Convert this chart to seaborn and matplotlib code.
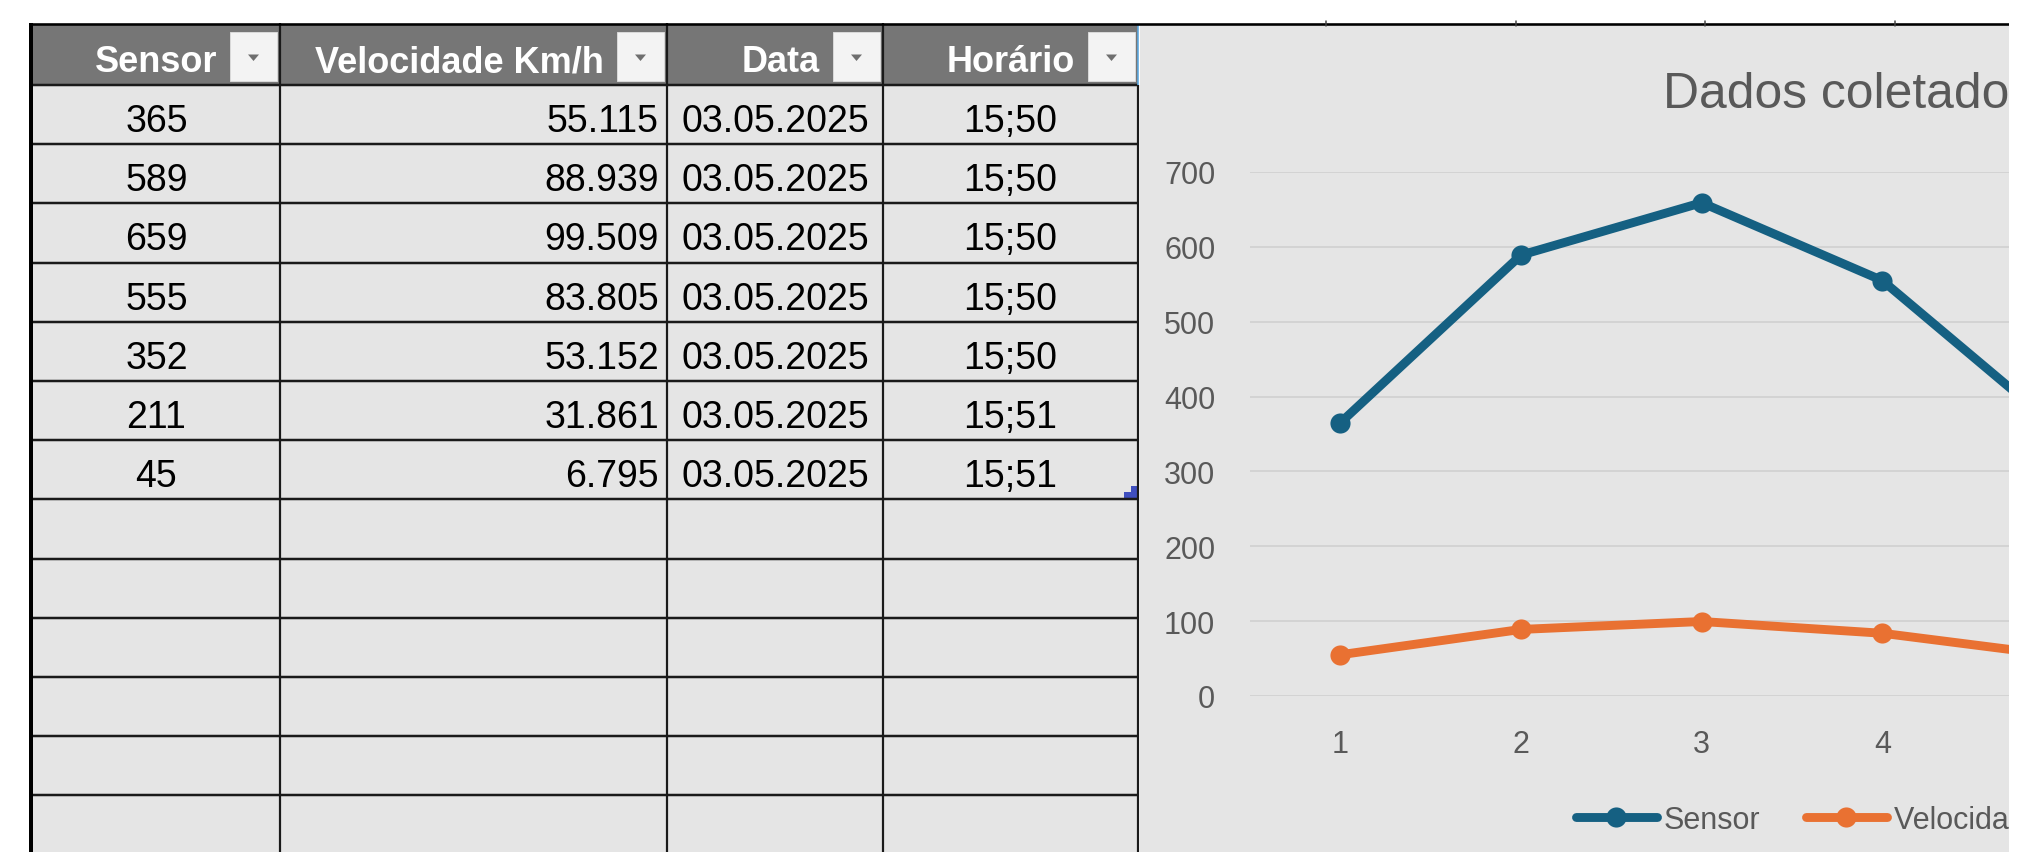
import matplotlib
matplotlib.use("Agg")
import matplotlib.pyplot as plt
from matplotlib.patches import Rectangle, Polygon
from matplotlib.lines import Line2D
import pandas as pd
import seaborn as sns

# ---------------- data ----------------
pontos = [1, 2, 3, 4, 5, 6, 7]
sensor = [365, 589, 659, 555, 352, 211, 45]
velocidade = [55.115, 88.939, 99.509, 83.805, 53.152, 31.861, 6.795]
velocidade_txt = ["55.115", "88.939", "99.509", "83.805", "53.152", "31.861", "6.795"]
datas = ["03.05.2025"] * 7
horarios = ["15;50", "15;50", "15;50", "15;50", "15;50", "15;51", "15;51"]
colunas = ["Sensor", "Velocidade Km/h", "Data", "Horário"]
series = ["Sensor", "Velocidade Km/h"]
y_ticks = [0, 100, 200, 300, 400, 500, 600, 700]
titulo = "Dados coletados"

# ---------------- style ----------------
sns.set_style("white")
plt.rcParams["font.family"] = ["Liberation Sans", "DejaVu Sans"]

W, H = 2039, 853
BLUE = "#156082"
ORANGE = "#E97132"
CELL_BG = "#E5E5E5"
CHART_BG = "#E5E5E5"
HEADER_BG = "#767676"
GRID = "#D3D3D3"
TXT_GRAY = "#595959"
LINE = "#1A1A1A"
PX = 72 / 100  # points per pixel
LW = 6.4
MS = 14.5

fig = plt.figure(figsize=(W / 100, H / 100), dpi=100)
bg = fig.add_axes([0, 0, 1, 1])
bg.set_xlim(0, W)
bg.set_ylim(H, 0)
bg.axis("off")

# backgrounds
bg.add_patch(Rectangle((1140, 26), 2009 - 1140, H - 26, fc=CHART_BG, ec="none"))
bg.add_patch(Rectangle((33, 86), 1138 - 33, H - 86, fc=CELL_BG, ec="none"))
bg.add_patch(Rectangle((33, 26), 1138 - 33, 60, fc=HEADER_BG, ec="none"))

# grid lines of the table
col_edges = [33, 280, 667, 883, 1138]
row_h = 59.2
row_tops = [86 + i * row_h for i in range(14)]
for y in row_tops:
    bg.plot([29, 1138], [y, y], color=LINE, lw=2.5 * PX, solid_capstyle="butt")
for x in col_edges[1:4]:
    bg.plot([x, x], [24, H], color=LINE, lw=2.2 * PX, solid_capstyle="butt")
bg.plot([1138, 1138], [86, H], color=LINE, lw=2.2 * PX, solid_capstyle="butt")
bg.plot([1138, 1138], [26, 86], color="#5AA7E0", lw=1.6 * PX, solid_capstyle="butt")
bg.plot([31, 31], [24, H], color="#000000", lw=4 * PX, solid_capstyle="butt")
bg.plot([29, 2009], [24.5, 24.5], color="#000000", lw=2.6 * PX, solid_capstyle="butt")
for x in [1326, 1516, 1705, 1895]:
    bg.plot([x, x], [22, 27], color="#444444", lw=1.5 * PX)

# header texts + filter buttons
for i, name in enumerate(colunas):
    right = col_edges[i + 1]
    bg.text(right - 63, 72, name, ha="right", va="baseline", color="white",
            fontsize=26, fontweight="bold")
    bg.add_patch(Rectangle((right - 50, 33), 47, 49, fc="#F3F3F3", ec="#D8D8D8", lw=1 * PX))
    cx = right - 26.5
    bg.add_patch(Polygon([[cx - 5.5, 55.5], [cx + 5.5, 55.5], [cx, 62]], closed=True,
                         fc="#6E6E6E", ec="none"))

# cell values
for r in range(len(sensor)):
    yb = row_tops[r] + 46
    bg.text((col_edges[0] + col_edges[1]) / 2, yb, str(sensor[r]), ha="center",
            va="baseline", fontsize=27, color="black")
    bg.text(659, yb, velocidade_txt[r], ha="right", va="baseline", fontsize=27, color="black")
    bg.text((col_edges[2] + col_edges[3]) / 2, yb, datas[r], ha="center",
            va="baseline", fontsize=27, color="black")
    bg.text((col_edges[3] + col_edges[4]) / 2, yb, horarios[r], ha="center",
            va="baseline", fontsize=27, color="black")

# table resize handle
bg.add_patch(Polygon([[1124, 500], [1137, 500], [1137, 487], [1131, 487], [1131, 493], [1124, 493]],
                     closed=True, fc="#3F4FBF", ec="none"))

# ---------------- chart ----------------
x_left, x_right = 1250, 2009
y_top, y_bot = 173, 697
ax = fig.add_axes([x_left / W, (H - y_bot) / H, (x_right - x_left) / W, (y_bot - y_top) / H])
ax.set_facecolor("none")

df = pd.DataFrame({
    "Ponto": pontos + pontos,
    "Valor": sensor + velocidade,
    "Série": [series[0]] * len(pontos) + [series[1]] * len(pontos),
})
sns.lineplot(data=df, x="Ponto", y="Valor", hue="Série", palette=[BLUE, ORANGE],
             marker="o", markersize=MS, markeredgewidth=0, linewidth=LW,
             errorbar=None, legend=False, ax=ax)

cat_w = 180.67
ax.set_xticks(pontos)
ax.set_yticks(y_ticks)
ax.set_xlim(0.5, 0.5 + (x_right - x_left) / cat_w)
ax.set_ylim(0, 700)
ax.set_xlabel("")
ax.set_ylabel("")
ax.grid(axis="y", color=GRID, lw=2 * PX)
ax.grid(axis="x", visible=False)
ax.set_axisbelow(True)
for s in ax.spines.values():
    s.set_visible(False)
ax.tick_params(axis="both", length=0, labelsize=22, labelcolor=TXT_GRAY)
ax.tick_params(axis="x", pad=23.5)
ax.tick_params(axis="y", pad=25)

handles = [Line2D([], [], color=c, lw=LW, marker="o", markersize=MS, markeredgewidth=0)
           for c in (BLUE, ORANGE)]
ax.legend(handles, series, loc="center left", bbox_to_anchor=(1576 / W, 1 - 821 / H),
          bbox_transform=fig.transFigure, ncol=2, frameon=False, fontsize=22,
          labelcolor=TXT_GRAY, borderpad=0, borderaxespad=0, handlelength=2.65,
          handletextpad=0.23, columnspacing=1.47)

fig.text(1663 / W, 1 - 108 / H, titulo, ha="left", va="baseline", fontsize=35.8,
         color=TXT_GRAY)

# white margin to the right of the visible sheet area
fig.add_artist(Rectangle((2009 / W, 0), (W - 2009) / W, 1, transform=fig.transFigure,
                         fc="white", ec="none", zorder=50))

fig.savefig("out.png", dpi=100)
